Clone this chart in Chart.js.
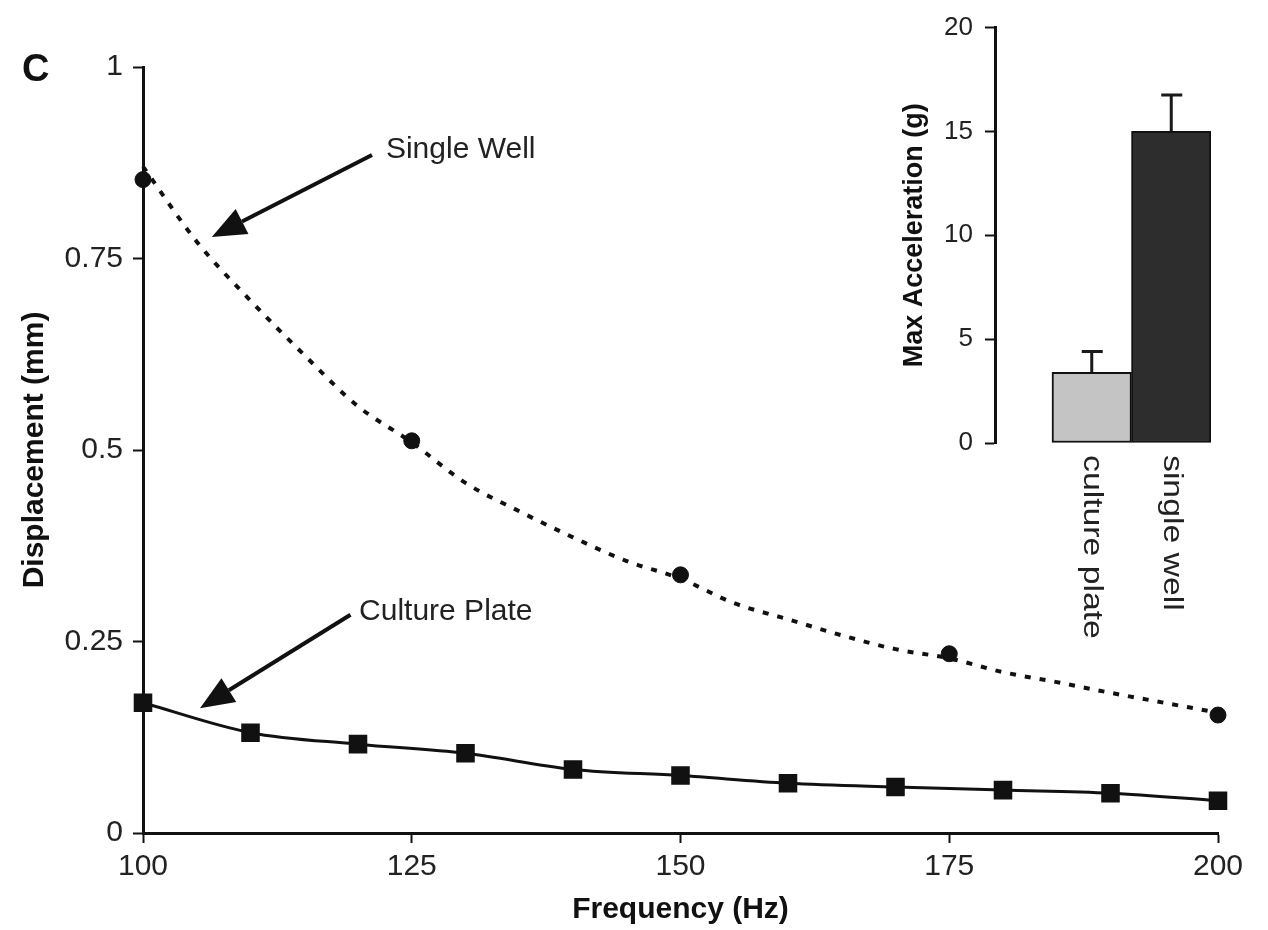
<!DOCTYPE html>
<html>
<head>
<meta charset="utf-8">
<script src="https://cdn.jsdelivr.net/npm/chart.js@4.4.1/dist/chart.umd.min.js"></script>
<style>
  html, body { margin: 0; padding: 0; background: #fff; }
  #wrap { position: relative; width: 1268px; height: 930px; }
  #main { position: absolute; left: 0; top: 0; width: 1268px; height: 930px; }
  #inset { position: absolute; left: 880px; top: 0; width: 388px; height: 700px; }
</style>
</head>
<body>
<div id="wrap">
  <div id="main"><canvas id="mainChart"></canvas></div>
  <div id="inset"><canvas id="insetChart"></canvas></div>
</div>
<script>
const FONT = '"Liberation Sans", Arial, Helvetica, sans-serif';

// culture plate - measured displacement (mm)
const plateFreq = [100, 110, 120, 130, 140, 150, 160, 170, 180, 190, 200];
const plateDisp = [0.170, 0.131, 0.116, 0.104, 0.083, 0.075, 0.065, 0.060, 0.056, 0.052, 0.042];

// single well - measured displacement (mm)
const wellFreq = [100, 125, 150, 175, 200];
const wellDisp = [0.853, 0.512, 0.337, 0.234, 0.154];

// single well - fitted curve (dotted line)
const wellFitFreq = [100, 105, 110, 115, 120, 125, 130, 135, 140, 145, 150, 155, 160, 165, 170, 175, 180, 185, 190, 195, 200];
const wellFitDisp = [0.870, 0.772, 0.695, 0.624, 0.557, 0.510, 0.457, 0.420, 0.386, 0.355, 0.332, 0.300, 0.279, 0.258, 0.240, 0.228, 0.210, 0.197, 0.183, 0.170, 0.157];

const freqTicks = [100, 125, 150, 175, 200];
const dispTicks = [0, 0.25, 0.5, 0.75, 1];

// inset: max acceleration (g)
const accelCategories = ['culture plate', 'single well'];
const accelMean = [3.4, 15.0];
const accelErr = [1.0, 1.75];
const accelTicks = [0, 5, 10, 15, 20];
const accelColors = ['#c4c4c4', '#2d2d2d'];

// arrows + labels, in data units (Hz, mm)
const callouts = [
  { text: 'Single Well', tail: [121.3, 0.885], tip: [106.4, 0.778], label: [122.6, 0.892] },
  { text: 'Culture Plate', tail: [119.3, 0.285], tip: [105.3, 0.163], label: [120.1, 0.289] }
];

const xy = (xs, ys) => xs.map((v, i) => ({ x: v, y: ys[i] }));

const calloutPlugin = {
  id: 'callouts',
  afterDraw(chart) {
    const { ctx, scales: { x, y } } = chart;
    ctx.save();
    ctx.fillStyle = '#111';
    ctx.strokeStyle = '#111';
    ctx.textBaseline = 'middle';
    ctx.textAlign = 'left';
    ctx.font = 'bold 38px ' + FONT;
    ctx.fillText('C', 22, 71);

    ctx.font = '30px ' + FONT;
    callouts.forEach(c => {
      const x0 = x.getPixelForValue(c.tail[0]), y0 = y.getPixelForValue(c.tail[1]);
      const x1 = x.getPixelForValue(c.tip[0]), y1 = y.getPixelForValue(c.tip[1]);
      const ang = Math.atan2(y1 - y0, x1 - x0);
      const headLen = 34, headHalf = 14;
      const bx = x1 - headLen * Math.cos(ang), by = y1 - headLen * Math.sin(ang);
      ctx.lineWidth = 4;
      ctx.beginPath();
      ctx.moveTo(x0, y0);
      ctx.lineTo(bx, by);
      ctx.stroke();
      ctx.beginPath();
      ctx.moveTo(x1, y1);
      ctx.lineTo(bx + headHalf * Math.sin(ang), by - headHalf * Math.cos(ang));
      ctx.lineTo(bx - headHalf * Math.sin(ang), by + headHalf * Math.cos(ang));
      ctx.closePath();
      ctx.fill();
      ctx.fillStyle = '#222';
      ctx.fillText(c.text, x.getPixelForValue(c.label[0]), y.getPixelForValue(c.label[1]));
      ctx.fillStyle = '#111';
    });
    ctx.restore();
  }
};

new Chart(document.getElementById('mainChart'), {
  type: 'line',
  data: {
    datasets: [
      {
        label: 'Single Well fit',
        data: xy(wellFitFreq, wellFitDisp),
        borderColor: '#111',
        borderWidth: 4,
        borderDash: [6, 9],
        pointRadius: 0,
        tension: 0.4,
        cubicInterpolationMode: 'monotone',
        clip: false
      },
      {
        label: 'Single Well',
        data: xy(wellFreq, wellDisp),
        showLine: false,
        pointStyle: 'circle',
        pointRadius: 8,
        pointBackgroundColor: '#111',
        pointBorderColor: '#111',
        clip: false
      },
      {
        label: 'Culture Plate',
        data: xy(plateFreq, plateDisp),
        borderColor: '#111',
        borderWidth: 3,
        pointStyle: 'rect',
        pointRadius: 11,
        pointBackgroundColor: '#111',
        pointBorderColor: '#111',
        tension: 0.25,
        cubicInterpolationMode: 'monotone',
        clip: false
      }
    ]
  },
  options: {
    responsive: true,
    maintainAspectRatio: false,
    animation: false,
    layout: { padding: { left: 0, top: 67, right: 50, bottom: 0 } },
    plugins: { legend: { display: false }, tooltip: { enabled: false } },
    scales: {
      x: {
        type: 'linear',
        min: 100,
        max: 200,
        afterBuildTicks: s => { s.ticks = freqTicks.map(v => ({ value: v })); },
        afterFit: s => { s.height = 97; },
        border: { display: true, color: '#111', width: 3 },
        grid: { drawOnChartArea: false, drawTicks: true, tickLength: 10, tickWidth: 2, tickColor: '#111' },
        ticks: { color: '#222', font: { family: FONT, size: 30 }, padding: 6, maxRotation: 0 },
        title: { display: true, text: 'Frequency (Hz)', color: '#111', font: { family: FONT, size: 30, weight: 'bold' }, padding: { top: 0, bottom: 2 } }
      },
      y: {
        min: 0,
        max: 1,
        afterBuildTicks: s => { s.ticks = dispTicks.map(v => ({ value: v })); },
        afterFit: s => { s.width = 143; },
        border: { display: true, color: '#111', width: 3 },
        grid: { drawOnChartArea: false, drawTicks: true, tickLength: 10, tickWidth: 2, tickColor: '#111' },
        ticks: { color: '#222', font: { family: FONT, size: 30 }, padding: 10, callback: v => String(v) },
        title: { display: true, text: 'Displacement (mm)', color: '#111', font: { family: FONT, size: 30, weight: 'bold' }, padding: { top: 17, bottom: 0 } }
      }
    }
  },
  plugins: [calloutPlugin]
});

// error bars (upper half) for the inset
const errorBarPlugin = {
  id: 'errorBars',
  afterDatasetsDraw(chart) {
    const { ctx } = chart;
    const yS = chart.scales.y;
    const meta = chart.getDatasetMeta(0);
    ctx.save();
    ctx.strokeStyle = '#1a1a1a';
    ctx.lineWidth = 3;
    meta.data.forEach((bar, i) => {
      const top = yS.getPixelForValue(accelMean[i] + accelErr[i]);
      ctx.beginPath();
      ctx.moveTo(bar.x, bar.y);
      ctx.lineTo(bar.x, top);
      ctx.moveTo(bar.x - 10, top);
      ctx.lineTo(bar.x + 11, top);
      ctx.stroke();
    });
    ctx.restore();
  }
};

// rotated (top-to-bottom) category labels under the bars
const categoryLabelPlugin = {
  id: 'categoryLabels',
  afterDraw(chart) {
    const { ctx, chartArea } = chart;
    const meta = chart.getDatasetMeta(0);
    ctx.save();
    ctx.fillStyle = '#222';
    ctx.font = '27px ' + FONT;
    ctx.textAlign = 'left';
    ctx.textBaseline = 'middle';
    meta.data.forEach((bar, i) => {
      ctx.save();
      ctx.translate(bar.x, chartArea.bottom + 12);
      ctx.rotate(Math.PI / 2);
      ctx.scale(1.25, 1);
      ctx.fillText(accelCategories[i], 0, 0);
      ctx.restore();
    });
    ctx.restore();
  }
};

new Chart(document.getElementById('insetChart'), {
  type: 'bar',
  data: {
    datasets: [{
      label: 'Max Acceleration',
      data: xy(accelCategories.map((c, i) => i), accelMean),
      backgroundColor: accelColors,
      borderColor: '#111',
      borderWidth: 2,
      borderSkipped: false,
      barPercentage: 1,
      categoryPercentage: 1
    }]
  },
  options: {
    responsive: true,
    maintainAspectRatio: false,
    animation: false,
    layout: { padding: { left: 0, top: 24, right: 57, bottom: 0 } },
    plugins: { legend: { display: false }, tooltip: { enabled: false } },
    scales: {
      x: {
        type: 'linear',
        offset: false,
        min: -1.217,
        max: 1.5,
        afterBuildTicks: s => { s.ticks = accelCategories.map((c, i) => ({ value: i })); },
        afterFit: s => { s.height = 700 - 443; },
        border: { display: false },
        grid: { display: false },
        ticks: { display: false }
      },
      y: {
        min: 0,
        max: 20,
        afterBuildTicks: s => { s.ticks = accelTicks.map(v => ({ value: v })); },
        afterFit: s => { s.width = 115; },
        border: { display: true, color: '#111', width: 3 },
        grid: { drawOnChartArea: false, drawTicks: true, tickLength: 10, tickWidth: 2, tickColor: '#111' },
        ticks: { color: '#222', font: { family: FONT, size: 26 }, padding: 12 },
        title: { display: true, text: 'Max Acceleration (g)', color: '#111', font: { family: FONT, size: 27, weight: 'bold' }, padding: { top: 18, bottom: 0 } }
      }
    }
  },
  plugins: [errorBarPlugin, categoryLabelPlugin]
});
</script>
</body>
</html>
